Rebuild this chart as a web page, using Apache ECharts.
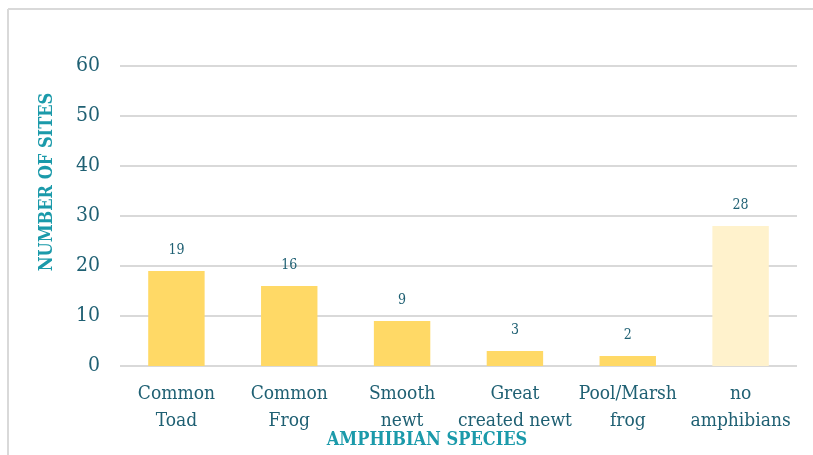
<!DOCTYPE html>
<html><head><meta charset="utf-8">
<script src="https://cdn.jsdelivr.net/npm/echarts@6/dist/echarts.min.js"></script>
<style>html,body{margin:0;padding:0;background:#fff}#c{width:813px;height:455px}</style>
</head><body><div id="c"></div>
<script>
const categories = ['Common\nToad', 'Common\nFrog', 'Smooth\nnewt', 'Great\ncreated newt', 'Pool/Marsh\nfrog', 'no\namphibians'];
const siteCounts = [19, 16, 9, 3, 2, 28];
const barColors = ['#FFD966', '#FFD966', '#FFD966', '#FFD966', '#FFD966', '#FFF2CC'];
const yTicks = [0, 10, 20, 30, 40, 50, 60];
const yTitle = 'NUMBER OF SITES';
const xTitle = 'AMPHIBIAN SPECIES';

const FONT = '"DejaVu Serif Condensed", "DejaVu Serif", serif';
const chart = echarts.init(document.getElementById('c'));
chart.setOption({
  animation: false,
  grid: { left: 120, right: 16, top: 66, bottom: 89 },
  xAxis: {
    type: 'category', data: categories,
    axisLine: { show: false }, axisTick: { show: false },
    axisLabel: { color: '#1F6073', fontFamily: FONT, fontSize: 19, lineHeight: 27, margin: 15, interval: 0 }
  },
  yAxis: {
    type: 'value', min: yTicks[0], max: yTicks[yTicks.length - 1], interval: 10,
    axisLine: { show: false }, axisTick: { show: false },
    axisLabel: { color: '#1F6073', fontFamily: FONT, fontSize: 21, margin: 20 },
    splitLine: { lineStyle: { color: '#D9D9D9', width: 2 } }
  },
  series: [{
    type: 'bar', barWidth: '50%',
    data: siteCounts.map((v, i) => ({ value: v, itemStyle: { color: barColors[i] } })),
    label: { show: true, position: 'top', distance: 14, color: '#1F6073', fontFamily: FONT, fontSize: 14 }
  }],
  graphic: [
    { type: 'line', shape: { x1: 8, y1: 9, x2: 813, y2: 9 }, style: { stroke: '#D9D9D9', lineWidth: 2 } },
    { type: 'line', shape: { x1: 8, y1: 9, x2: 8, y2: 455 }, style: { stroke: '#D9D9D9', lineWidth: 2 } },
    { type: 'text', x: 47, y: 182, rotation: Math.PI / 2,
      style: { text: yTitle, fill: '#1B9AAA', font: 'bold 18px ' + FONT, textAlign: 'center', textVerticalAlign: 'middle' } },
    { type: 'text', x: 427, y: 440,
      style: { text: xTitle, fill: '#1B9AAA', font: 'bold 18px ' + FONT, textAlign: 'center', textVerticalAlign: 'middle' } }
  ]
});
</script></body></html>
